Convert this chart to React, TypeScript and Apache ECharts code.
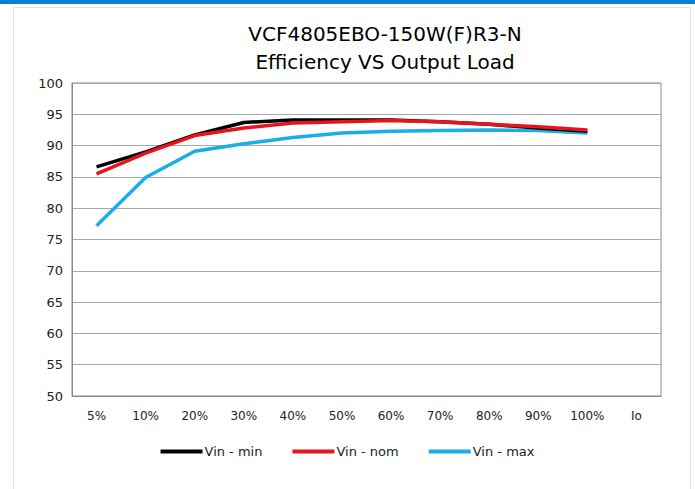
import React, { useEffect, useRef } from "react";
import * as echarts from "echarts";

const categories = ["5%", "10%", "20%", "30%", "40%", "50%", "60%", "70%", "80%", "90%", "100%", "Io"];
const vinMin = [86.6, 89.0, 91.7, 93.7, 94.1, 94.1, 94.1, 93.8, 93.4, 92.8, 92.3, null];
const vinNom = [85.5, 88.8, 91.6, 92.8, 93.6, 93.8, 94.0, 93.8, 93.4, 93.0, 92.5, null];
const vinMax = [77.2, 84.9, 89.1, 90.3, 91.3, 92.0, 92.3, 92.4, 92.5, 92.4, 92.0, null];
const seriesNames = ["Vin - min", "Vin - nom", "Vin - max"];
const colors = ["#000000", "#e8141b", "#1aaee8"];
const titleLines = ["VCF4805EBO-150W(F)R3-N", "Efficiency VS Output Load"];

const FONT = "'DejaVu Sans', sans-serif";

export default function App() {
  const ref = useRef<HTMLDivElement>(null);
  useEffect(() => {
    const chart = echarts.init(ref.current!, null, { renderer: "svg" });
    const data = [vinMin, vinNom, vinMax];
    chart.setOption({
      animation: false,
      backgroundColor: "#ffffff",
      graphic: [
        { type: "rect", shape: { x: 0, y: 0, width: 695, height: 4 }, style: { fill: "#0a7fcf" }, z: -10 },
        {
          type: "rect",
          shape: { x: 13.5, y: 7.5, width: 677, height: 490 },
          style: { fill: "#ffffff", stroke: "#e2e2e2", lineWidth: 1 },
          z: -10,
        },
      ],
      title: {
        text: titleLines.join("\n"),
        left: 380,
        textAlign: "center",
        top: 15,
        textStyle: { fontFamily: FONT, fontSize: 20, fontWeight: "normal", color: "#000", lineHeight: 28 },
      },
      legend: {
        bottom: 26,
        left: "center",
        data: seriesNames,
        icon: "rect",
        itemWidth: 42,
        itemHeight: 4,
        itemGap: 30,
        textStyle: { fontFamily: FONT, fontSize: 13, color: "#222", padding: [0, 0, 0, -3] },
      },
      grid: {
        left: 72,
        right: 34,
        top: 83,
        bottom: 93,
        show: true,
        borderColor: "#8a8a8a",
        borderWidth: 1,
      },
      xAxis: {
        type: "category",
        data: categories,
        boundaryGap: true,
        axisTick: { show: false },
        axisLine: { lineStyle: { color: "#8a8a8a" } },
        axisLabel: { fontFamily: FONT, fontSize: 12, color: "#222", margin: 14 },
      },
      yAxis: {
        type: "value",
        min: 50,
        max: 100,
        interval: 5,
        axisLine: { show: true, lineStyle: { color: "#8a8a8a" } },
        axisTick: { show: false },
        splitLine: { lineStyle: { color: "#a8a8a8", width: 1 } },
        axisLabel: { fontFamily: FONT, fontSize: 13, color: "#222", margin: 9 },
      },
      series: seriesNames.map((n, i) => ({
        name: n,
        type: "line",
        data: data[i],
        symbol: "none",
        color: colors[i],
        lineStyle: { width: 3.5, color: colors[i] },
        z: i === 1 ? 4 : i === 0 ? 3 : 2,
      })),
    });
    return () => chart.dispose();
  }, []);
  return <div ref={ref} style={{ position: "absolute", left: 0, top: 0, width: 695, height: 489 }} />;
}
